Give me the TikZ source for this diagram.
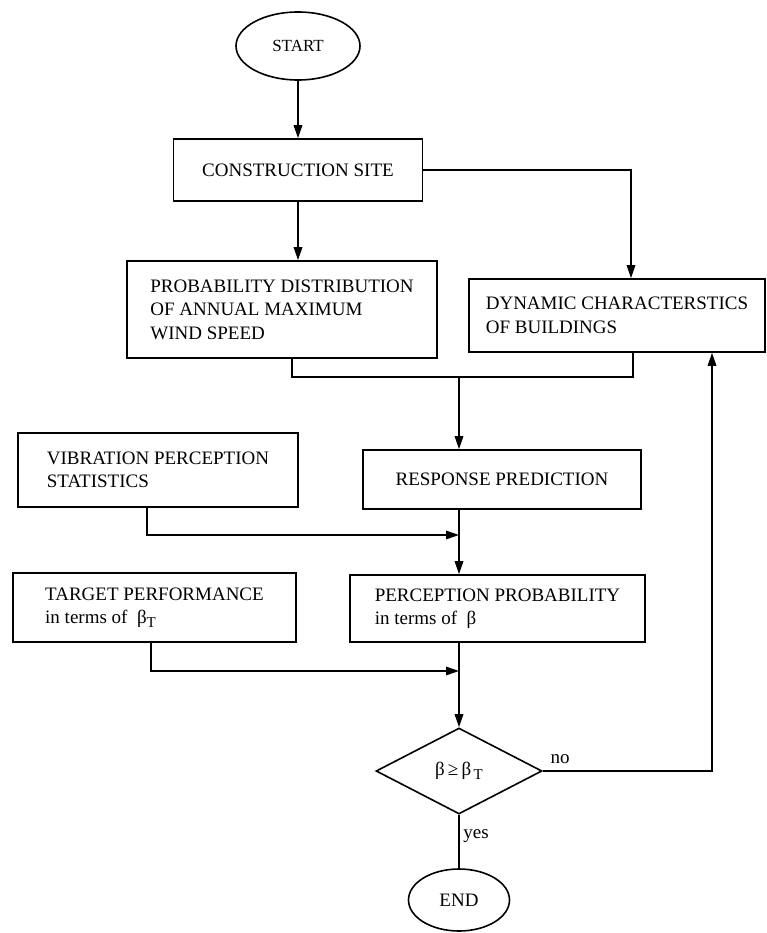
\documentclass[tikz,border=0pt]{standalone}
\usepackage{fontspec}
\setmainfont{Liberation Serif}
\usetikzlibrary{arrows.meta,shapes.geometric,calc}
\begin{document}
\begin{tikzpicture}[x=1pt,y=-1pt,
  line width=1.6pt,
  every node/.style={font=\fontsize{19}{23.5}\selectfont},
  box/.style={draw,rectangle,inner sep=0pt,align=left},
  cbox/.style={draw,rectangle,inner sep=0pt,align=center},
  term/.style={draw,ellipse,inner sep=0pt},
  decision/.style={draw,diamond,inner sep=0pt,aspect=1.9},
  arr/.style={-{Triangle[length=13pt,width=8.5pt]}},
  ]
\fill[white] (0,0) rectangle (766,933);
\useasboundingbox (0,0) rectangle (766,933);

% nodes
\node[term,minimum width=124pt,minimum height=68pt,font=\fontsize{17}{20}\selectfont] (start) at (298,46) {START};
\node[cbox,minimum width=249pt,minimum height=62pt] (cs) at (298,170) {CONSTRUCTION SITE};
\node[box,minimum width=310pt,minimum height=97pt] (prob) at (282,309.5) {PROBABILITY DISTRIBUTION\\OF ANNUAL MAXIMUM\\WIND SPEED};
\node[box,minimum width=296pt,minimum height=73pt] (dyn) at (617,315.5) {DYNAMIC CHARACTERSTICS\\OF BUILDINGS};
\node[box,minimum width=280pt,minimum height=74pt] (vib) at (158,470) {VIBRATION PERCEPTION\\STATISTICS};
\node[cbox,minimum width=278pt,minimum height=59pt] (resp) at (502,479.5) {RESPONSE PREDICTION};
\node[box,minimum width=283pt,minimum height=69pt] (target) at (154.5,607.5) {TARGET PERFORMANCE\\in terms of\ \ β\raisebox{-4pt}{\fontsize{15}{15}\selectfont T}};
\node[box,minimum width=295pt,minimum height=67pt] (perc) at (497.5,608.5) {PERCEPTION PROBABILITY\\in terms of\ \ β};
\node[decision,minimum width=166pt,minimum height=86pt] (dec) at (459,771) {β\,≥\,β\raisebox{-4pt}{\fontsize{15}{15}\selectfont\,T}};
\node[term,minimum width=101pt,minimum height=62pt] (end) at (459,900) {END};
\node (no) at (560,759) {no};
\node (yes) at (476,836) {yes};

% helper coordinates
\coordinate (c1) at (631,174);
\coordinate (m1) at (292,377);
\coordinate (m2) at (633,377);
\coordinate (mv) at (459,377);
\coordinate (v1) at (147,535);
\coordinate (t1) at (151,671);
\coordinate (fb) at (712,771);

% connectors
\draw[arr] (start.south) -- (cs.north);
\draw[arr] (cs.south) -- (cs.south |- prob.north);
\draw[arr] (cs.east) -| (c1 |- dyn.north);
\draw (prob.south -| m1) -- (m1) -- (m2) -- (m2 |- dyn.south);
\draw[arr] (mv) -- (mv |- resp.north);
\draw[arr] (resp.south -| mv) -- (mv |- perc.north);
\draw[arr] (vib.south -| v1) |- (mv |- v1);
\draw[arr] (target.south -| t1) |- (mv |- t1);
\draw[arr] (perc.south -| mv) -- (dec.north);
\draw (dec.south) -- (end.north);
\draw[arr] (dec.east) -| (fb |- dyn.south);
\end{tikzpicture}
\end{document}
